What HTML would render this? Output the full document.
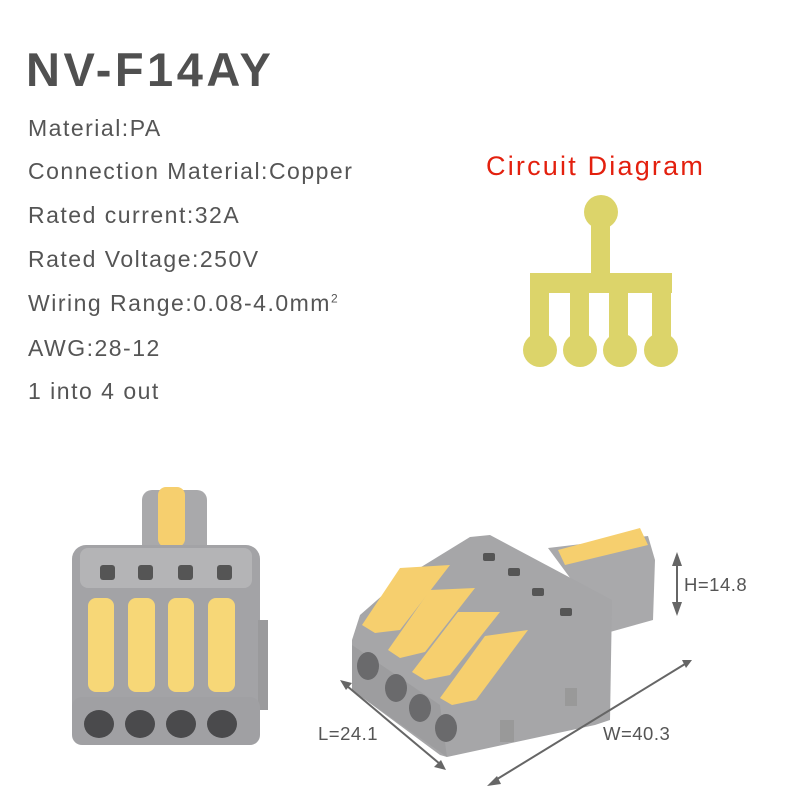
<!DOCTYPE html>
<html><head><meta charset="utf-8"><style>
body{margin:0;width:800px;height:800px;background:#fff;position:relative;overflow:hidden;font-family:"Liberation Sans",sans-serif}
.t{position:absolute;left:28px;color:#555;font-size:23px;letter-spacing:1.5px;line-height:1}
</style></head><body>
<div style="position:absolute;left:26px;top:42px;font-size:47px;font-weight:bold;color:#505050;letter-spacing:3.5px">NV-F14AY</div>
<div class="t" style="top:117px">Material:PA</div>
<div class="t" style="top:160px">Connection Material:Copper</div>
<div class="t" style="top:204px">Rated current:32A</div>
<div class="t" style="top:248px">Rated Voltage:250V</div>
<div class="t" style="top:292px">Wiring Range:0.08-4.0mm<sup style="font-size:12px">2</sup></div>
<div class="t" style="top:337px">AWG:28-12</div>
<div class="t" style="top:380px">1 into 4 out</div>
<div style="position:absolute;left:486px;top:151px;font-size:27px;letter-spacing:2.2px;color:#e3200e">Circuit Diagram</div>
<svg width="800" height="800" style="position:absolute;left:0;top:0">
<g fill="#dcd46a">
<circle cx="601" cy="212" r="17"/>
<rect x="591" y="212" width="19" height="65"/>
<rect x="530" y="273" width="142" height="20"/>
<rect x="530" y="273" width="19" height="77"/>
<rect x="570" y="273" width="19" height="77"/>
<rect x="609" y="273" width="19" height="77"/>
<rect x="652" y="273" width="19" height="77"/>
<circle cx="540" cy="350" r="17"/><circle cx="580" cy="350" r="17"/><circle cx="620" cy="350" r="17"/><circle cx="661" cy="350" r="17"/>
</g>
<rect x="142" y="490" width="65" height="65" rx="10" fill="#a9a9ab"/>
<rect x="158" y="487" width="27" height="60" rx="8" fill="#f6cf6e"/>
<rect x="72" y="545" width="188" height="200" rx="14" fill="#a3a3a6"/>
<rect x="80" y="548" width="172" height="40" rx="8" fill="#b4b4b6"/>
<rect x="258" y="620" width="10" height="90" fill="#9a9a9c"/>
<g fill="#555">
<rect x="100" y="565" width="15" height="15" rx="3"/><rect x="138" y="565" width="15" height="15" rx="3"/><rect x="178" y="565" width="15" height="15" rx="3"/><rect x="217" y="565" width="15" height="15" rx="3"/>
</g>
<g fill="#f7d777">
<rect x="88" y="598" width="26" height="94" rx="8"/><rect x="128" y="598" width="27" height="94" rx="8"/><rect x="168" y="598" width="26" height="94" rx="8"/><rect x="208" y="598" width="27" height="94" rx="8"/>
</g>
<rect x="72" y="697" width="188" height="48" rx="10" fill="#a0a0a3"/>
<g fill="#4a4a4c">
<ellipse cx="99" cy="724" rx="15" ry="14"/><ellipse cx="140" cy="724" rx="15" ry="14"/><ellipse cx="181" cy="724" rx="15" ry="14"/><ellipse cx="222" cy="724" rx="15" ry="14"/>
</g>
<polygon points="548,548 648,536 655,560 653,620 610,632" fill="#a9a9ab"/>
<polygon points="558,550 640,528 648,545 565,565" fill="#f6cf6e"/>
<polygon points="352,640 360,615 400,580 470,537 490,535 612,600 610,720 595,725 447,757 440,755 352,690" fill="#a6a6a8"/>
<polygon points="352,645 440,705 447,757 352,690" fill="#9d9d9f"/>
<g fill="#6a6a6c">
<ellipse cx="368" cy="666" rx="11" ry="14"/><ellipse cx="396" cy="688" rx="11" ry="14"/><ellipse cx="420" cy="708" rx="11" ry="14"/><ellipse cx="446" cy="728" rx="11" ry="14"/>
</g>
<g fill="#f6cf6e">
<polygon points="362,625 400,568 450,565 400,630 375,633"/>
<polygon points="388,650 430,590 475,588 425,652 400,658"/>
<polygon points="412,672 458,612 500,612 450,675 425,680"/>
<polygon points="440,698 485,636 528,630 476,700 452,705"/>
</g>
<g fill="#555">
<rect x="483" y="553" width="12" height="8" rx="2"/><rect x="508" y="568" width="12" height="8" rx="2"/><rect x="532" y="588" width="12" height="8" rx="2"/><rect x="560" y="608" width="12" height="8" rx="2"/>
</g>
<rect x="565" y="688" width="12" height="18" fill="#999"/>
<rect x="500" y="720" width="14" height="22" fill="#999"/>
<g stroke="#666" stroke-width="2" fill="#666">
<line x1="677" y1="560" x2="677" y2="608"/>
<polygon points="677,552 672,566 682,566" stroke="none"/><polygon points="677,616 672,602 682,602" stroke="none"/>
<line x1="347" y1="686" x2="440" y2="764"/>
<polygon points="340,680 352,683 346,690" stroke="none"/><polygon points="446,770 434,767 441,760" stroke="none"/>
<line x1="494" y1="781" x2="685" y2="664"/>
<polygon points="487,786 497,776 501,784" stroke="none"/><polygon points="692,660 682,660 686,668" stroke="none"/>
</g>
<g font-family="Liberation Sans,sans-serif" font-size="18.5" letter-spacing="0.5" fill="#555">
<text x="684" y="591">H=14.8</text>
<text x="318" y="740">L=24.1</text>
<text x="603" y="740">W=40.3</text>
</g>
</svg>
</body></html>
